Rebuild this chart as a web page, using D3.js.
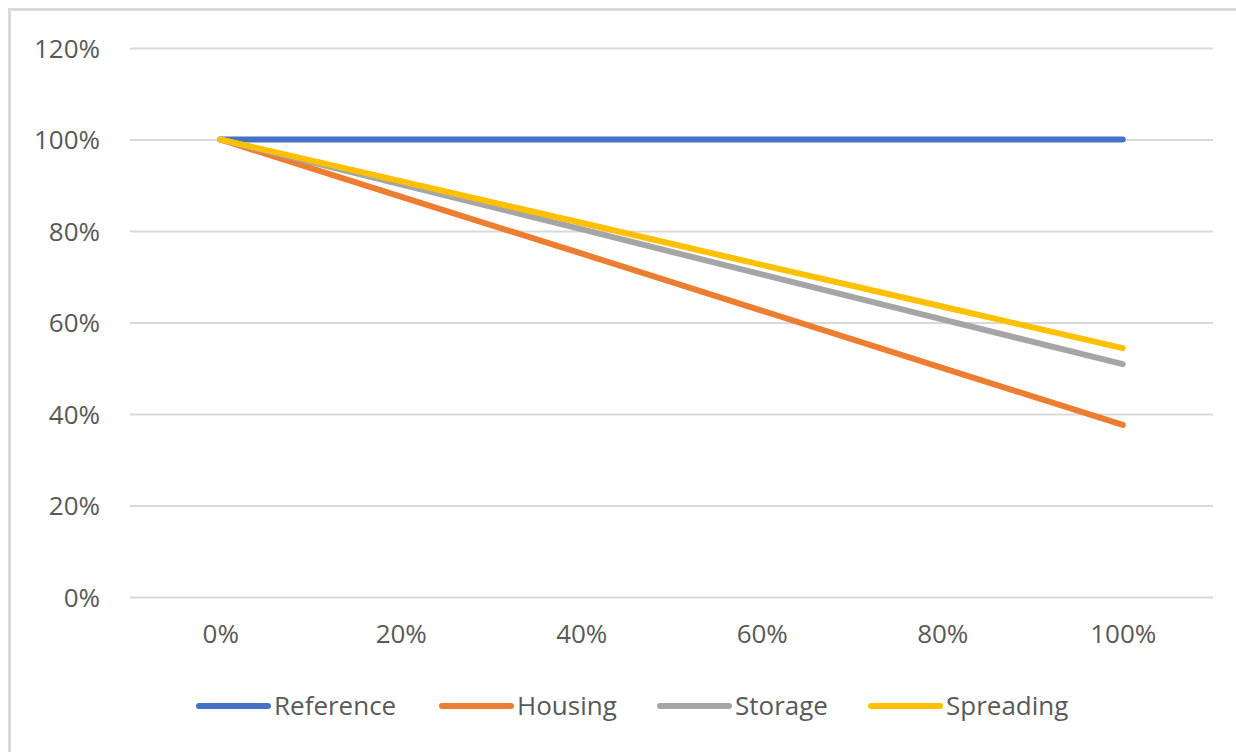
<!DOCTYPE html>
<html>
<head>
<meta charset="utf-8">
<script src="https://cdn.jsdelivr.net/npm/d3@7"></script>
<style>
  html, body { margin: 0; padding: 0; background: #ffffff; }
  svg { display: block; }
  text { font-family: "Open Sans", "Liberation Sans", sans-serif; fill: #595959; }
</style>
</head>
<body>
<svg id="chart" width="1236" height="752"></svg>
<script>
// Share of the x-axis variable (categories)
const categories = ["0%", "20%", "40%", "60%", "80%", "100%"];

// Relative values per scenario, in percent
const reference = [100, 100, 100, 100, 100, 100];
const housing   = [100, 87.5, 75.1, 62.6, 50.1, 37.6];
const storage   = [100, 90.2, 80.4, 70.5, 60.7, 50.9];
const spreading = [100, 90.9, 81.8, 72.6, 63.5, 54.4];

const seriesNames = ["Reference", "Housing", "Storage", "Spreading"];
const seriesValues = [reference, housing, storage, spreading];
const seriesColors = ["#4472C4", "#ED7D31", "#A5A5A5", "#FFC000"];

const yTicks = [0, 20, 40, 60, 80, 100, 120];

const svg = d3.select("#chart");
const W = 1236, H = 752;

// Chart frame
svg.append("rect")
  .attr("x", 9.5).attr("y", 9.5)
  .attr("width", W + 20).attr("height", H + 20)
  .attr("fill", "none")
  .attr("stroke", "#d9d9d9")
  .attr("stroke-width", 3);

const plot = { left: 130, right: 1213, top: 48, bottom: 597 };

const x = d3.scalePoint()
  .domain(categories)
  .range([plot.left, plot.right])
  .padding(0.5);

const y = d3.scaleLinear()
  .domain([0, 120])
  .range([plot.bottom, plot.top]);

// Horizontal gridlines and y labels
const yAxis = d3.axisLeft(y)
  .tickValues(yTicks)
  .tickSize(-(plot.right - plot.left))
  .tickPadding(30)
  .tickFormat(d => d + "%");

const gy = svg.append("g")
  .attr("transform", `translate(${plot.left},0)`)
  .call(yAxis);
gy.select(".domain").remove();
gy.selectAll(".tick line")
  .attr("stroke", "#d9d9d9")
  .attr("stroke-width", 2);
gy.selectAll(".tick text")
  .attr("font-size", 26)
  .attr("fill", "#595959")
  .attr("font-family", "'Open Sans', 'Liberation Sans', sans-serif")
  .attr("dy", "0.35em");

// Category labels along the bottom
const xAxis = d3.axisBottom(x).tickSize(0).tickPadding(28);
const gx = svg.append("g")
  .attr("transform", `translate(0,${plot.bottom})`)
  .call(xAxis);
gx.select(".domain").remove();
gx.selectAll(".tick text")
  .attr("font-size", 26)
  .attr("fill", "#595959")
  .attr("font-family", "'Open Sans', 'Liberation Sans', sans-serif");

// Series lines
const line = d3.line()
  .x((d, i) => x(categories[i]))
  .y(d => y(d));

svg.append("g")
  .selectAll("path")
  .data(seriesValues)
  .join("path")
  .attr("d", d => line(d))
  .attr("fill", "none")
  .attr("stroke", (d, i) => seriesColors[i])
  .attr("stroke-width", 6)
  .attr("stroke-linecap", "round")
  .attr("stroke-linejoin", "round");

// Legend
const legendY = 706;
const legendItems = [
  { x: 199 }, { x: 442 }, { x: 660 }, { x: 871 }
];
const lg = svg.append("g");
const items = lg.selectAll("g")
  .data(seriesNames)
  .join("g")
  .attr("transform", (d, i) => `translate(${legendItems[i].x},${legendY})`);
items.append("line")
  .attr("x1", 0).attr("x2", 69)
  .attr("y1", 0).attr("y2", 0)
  .attr("stroke", (d, i) => seriesColors[i])
  .attr("stroke-width", 6)
  .attr("stroke-linecap", "round");
items.append("text")
  .attr("x", 75)
  .attr("y", 0)
  .attr("dy", "0.35em")
  .attr("font-size", 26)
  .text(d => d);
</script>
</body>
</html>
